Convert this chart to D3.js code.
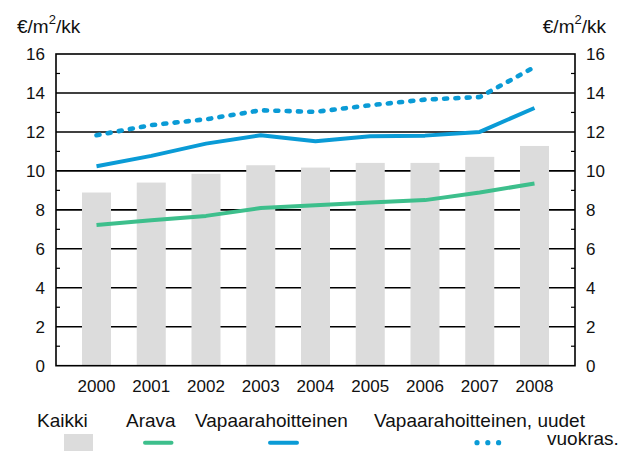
<!DOCTYPE html>
<html><head><meta charset="utf-8">
<script src="https://cdn.jsdelivr.net/npm/d3@7"></script>
<style>body{margin:0;background:#fff}svg{display:block;font-family:"Liberation Sans",Arial,sans-serif}</style>
</head><body>
<script>
const years = ["2000","2001","2002","2003","2004","2005","2006","2007","2008"];
const kaikki = [8.89, 9.40, 9.85, 10.29, 10.17, 10.41, 10.41, 10.72, 11.28];
const arava = [7.22, 7.47, 7.69, 8.09, 8.24, 8.38, 8.50, 8.89, 9.35];
const vapaa = [10.24, 10.77, 11.40, 11.83, 11.52, 11.78, 11.81, 12.00, 13.23];
const uudet = [11.83, 12.35, 12.65, 13.11, 13.03, 13.37, 13.66, 13.79, 15.33];
const yTicks = [0, 2, 4, 6, 8, 10, 12, 14, 16];
const minorTicks = [1, 3, 5, 7, 9, 11, 13, 15];
const legendLabels = ["Kaikki", "Arava", "Vapaarahoitteinen", "Vapaarahoitteinen, uudet", "vuokras."];

const W = 618, H = 451;
const L = 56, R = 575, T = 54, B = 365.7;
const green = "#3dbf8c", blue = "#0a9bd6", grey = "#dcdcdc";

const svg = d3.select("body").append("svg").attr("width", W).attr("height", H);
const x = d3.scaleBand().domain(years).range([L, R]).paddingInner(0.47).paddingOuter(0.475);
const y = d3.scaleLinear().domain([0, 16]).range([B, T]);
const cx = d => x(d) + x.bandwidth() / 2;

// gridlines
svg.append("g").selectAll("line").data(yTicks.filter(v => v > 0 && v < 16)).join("line")
  .attr("x1", L).attr("x2", R).attr("y1", d => y(d)).attr("y2", d => y(d))
  .attr("stroke", "#000").attr("stroke-width", 1.6);

// bars
svg.append("g").selectAll("rect").data(years).join("rect")
  .attr("x", d => x(d)).attr("width", x.bandwidth())
  .attr("y", (d, i) => y(kaikki[i])).attr("height", (d, i) => y(0) - y(kaikki[i]))
  .attr("fill", grey);

// frame
svg.append("rect").attr("x", L).attr("y", y(16)).attr("width", R - L).attr("height", y(0) - y(16))
  .attr("fill", "none").attr("stroke", "#000").attr("stroke-width", 1.6);

// minor ticks
const mt = svg.append("g").attr("stroke", "#000").attr("stroke-width", 1.2);
mt.selectAll("line.l").data(minorTicks).join("line").attr("class", "l")
  .attr("x1", L).attr("x2", L + 4).attr("y1", d => y(d)).attr("y2", d => y(d));
mt.selectAll("line.r").data(minorTicks).join("line").attr("class", "r")
  .attr("x1", R - 4).attr("x2", R).attr("y1", d => y(d)).attr("y2", d => y(d));

// tick labels
svg.append("g").selectAll("text").data(yTicks).join("text")
  .attr("x", 45).attr("y", d => y(d) + 6.2).attr("text-anchor", "end")
  .attr("font-size", 17).attr("fill", "#111").text(d => d);
svg.append("g").selectAll("text").data(yTicks).join("text")
  .attr("x", 586).attr("y", d => y(d) + 6.2).attr("text-anchor", "start")
  .attr("font-size", 17).attr("fill", "#111").text(d => d);
svg.append("g").selectAll("text").data(years).join("text")
  .attr("x", d => cx(d)).attr("y", 391.7).attr("text-anchor", "middle")
  .attr("font-size", 17).attr("fill", "#111").text(d => d);

// unit titles
function unit(xp, anchor) {
  const t = svg.append("text").attr("x", xp).attr("y", 33).attr("text-anchor", anchor)
    .attr("font-size", 19).attr("fill", "#111");
  t.append("tspan").text("€/m");
  t.append("tspan").attr("font-size", 13).attr("dy", -9).text("2");
  t.append("tspan").attr("dy", 9).text("/kk");
}
unit(17, "start");
unit(606, "end");

// lines
const line = vals => d3.line().x((d, i) => cx(years[i])).y(d => y(d))(vals);
svg.append("path").attr("d", line(arava)).attr("fill", "none").attr("stroke", green)
  .attr("stroke-width", 4).attr("stroke-linejoin", "round");
svg.append("path").attr("d", line(vapaa)).attr("fill", "none").attr("stroke", blue)
  .attr("stroke-width", 4).attr("stroke-linejoin", "round");
svg.append("path").attr("d", line(uudet)).attr("fill", "none").attr("stroke", blue)
  .attr("stroke-width", 4.6).attr("stroke-linecap", "round").attr("stroke-dasharray", "3 8.3");

// legend
const lg = svg.append("g").attr("font-size", 19).attr("fill", "#111");
lg.append("text").attr("x", 37).attr("y", 426.7).text(legendLabels[0]);
lg.append("text").attr("x", 126).attr("y", 426.7).text(legendLabels[1]);
lg.append("text").attr("x", 195).attr("y", 426.7).text(legendLabels[2]);
lg.append("text").attr("x", 374).attr("y", 426.7).text(legendLabels[3]);
lg.append("text").attr("x", 547).attr("y", 445).text(legendLabels[4]);
svg.append("rect").attr("x", 64).attr("y", 434).attr("width", 29).attr("height", 20).attr("fill", grey);
svg.append("line").attr("x1", 145).attr("x2", 171.5).attr("y1", 442.7).attr("y2", 442.7)
  .attr("stroke", green).attr("stroke-width", 4).attr("stroke-linecap", "round");
svg.append("line").attr("x1", 270).attr("x2", 297).attr("y1", 442.7).attr("y2", 442.7)
  .attr("stroke", blue).attr("stroke-width", 4).attr("stroke-linecap", "round");
svg.append("g").selectAll("circle").data([0, 1, 2]).join("circle")
  .attr("cx", d => 477 + d * 10.8).attr("cy", 442.7).attr("r", 2.6).attr("fill", blue);
</script>
</body></html>
